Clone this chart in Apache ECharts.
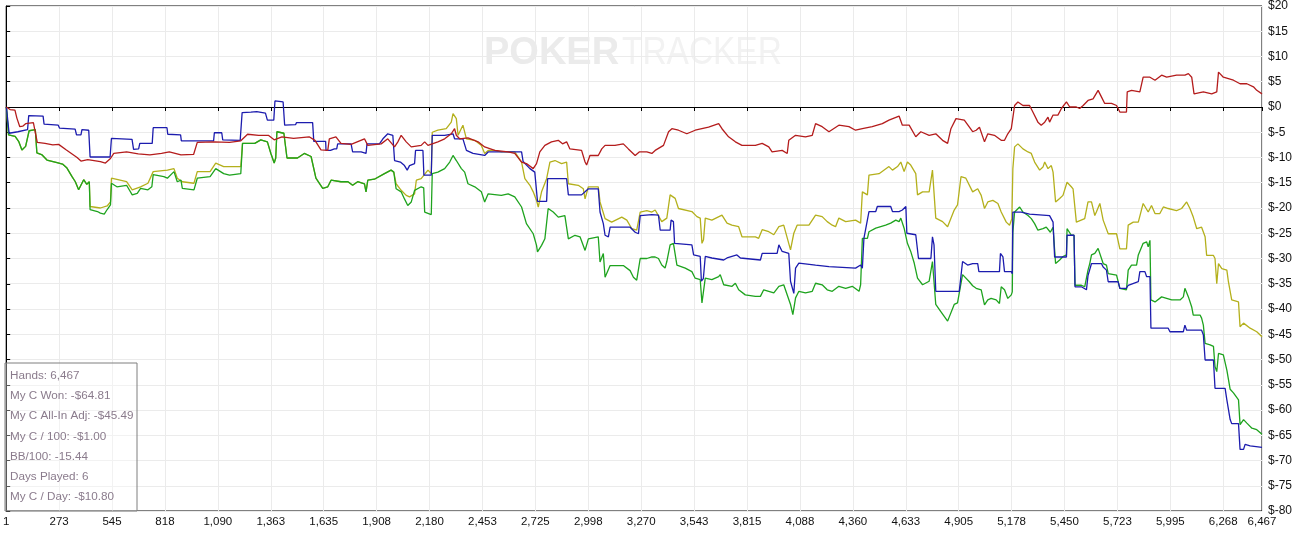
<!DOCTYPE html>
<html>
<head>
<meta charset="utf-8">
<script src="https://cdn.jsdelivr.net/npm/echarts@6/dist/echarts.min.js"></script>
<style>
html,body{margin:0;padding:0;background:#fff;}
#chart{width:1300px;height:533px;}
</style>
</head>
<body>
<div id="chart"></div>
<script>
// ---- data (hand number, dollars) ----
var totalHands = 6467;
var xTickStep = 272.5;
var yTicks = { min: -80, max: 20, step: 5 };

var statsLines = [
  "Hands: 6,467",
  "My C Won: -$64.81",
  "My C All-In Adj: -$45.49",
  "My C / 100: -$1.00",
  "BB/100: -15.44",
  "Days Played: 6",
  "My C / Day: -$10.80"
];

var redLine = [
[1,0],[20,-0.5],[45,-0.6],[55,-2.2],[70,-3.9],[85,-3.8],[100,-3.3],[140,-3.1],[160,-7.0],[200,-7.2],[240,-7.5],[270,-7.4],[310,-8.5],[365,-10.0],[385,-10.7],[420,-10.4],[485,-10.8],[511,-11.1],[537,-10.2],[554,-9.2],[620,-8.9],[680,-9.3],[740,-9.5],[800,-9.2],[840,-8.9],[900,-9.5],[965,-9.4],[984,-7.0],[1070,-6.9],[1150,-7.0],[1208,-6.7],[1243,-5.4],[1300,-5.6],[1350,-5.6],[1380,-6.5],[1420,-5.9],[1480,-6.2],[1560,-5.9],[1590,-6.6],[1621,-8.5],[1656,-8.6],
[1664,-6.3],[1698,-5.9],[1724,-7.2],[1776,-7.4],[1845,-6.3],[1862,-7.6],[1931,-7.3],[1965,-6.3],[2000,-7.9],[2017,-6.9],[2034,-5.6],[2060,-6.9],[2086,-7.9],[2137,-7.6],[2155,-6.9],[2172,-7.6],[2223,-6.9],[2258,-6.3],[2292,-5.3],[2309,-4.3],[2318,-5.6],[2335,-6.3],[2378,-6.1],[2430,-6.9],[2464,-7.9],[2516,-8.6],[2585,-8.9],[2619,-9.2],[2654,-10.9],[2679,-11.2],[2714,-12.2],[2731,-11.2],[2748,-8.9],[2774,-7.6],[2808,-6.9],[2843,-6.6],[2865,-7.3],[2886,-6.9],[2903,-8.3],[2963,-8.6],[2981,-10.9],[2989,-11.5],[3006,-9.6],[3049,-9.6],[3067,-8.3],[3084,-7.6],[3135,-7.6],[3178,-7.3],[3204,-8.3],[3239,-9.6],[3260,-8.9],[3299,-8.9],[3325,-9.2],
[3342,-8.6],[3385,-7.6],[3411,-4.9],[3428,-4.3],[3462,-4.6],[3505,-5.3],[3548,-4.6],[3617,-4.0],[3669,-3.3],[3686,-4.3],[3720,-5.9],[3755,-6.9],[3789,-7.6],[3858,-7.6],[3893,-7.2],[3927,-7.9],[3944,-8.9],[3996,-8.6],[4022,-9.2],[4030,-6.6],[4065,-5.6],[4116,-5.9],[4151,-5.6],[4168,-3.3],[4202,-3.9],[4237,-4.9],[4288,-3.6],[4340,-3.9],[4374,-4.6],[4409,-4.3],[4460,-3.9],[4512,-3.3],[4546,-2.6],[4598,-1.8],[4615,-3.6],[4650,-3.6],[4684,-5.9],[4710,-4.9],[4753,-5.6],[4787,-5.3],[4822,-6.6],[4848,-7.2],[4865,-4.3],[4891,-2.3],[4934,-2.6],[4977,-4.9],
[4995,-4.6],[5012,-4.0],[5038,-6.9],[5055,-5.3],[5089,-5.6],[5124,-6.6],[5141,-6.6],[5158,-5.3],[5176,-4.3],[5184,-4.0],[5193,0.3],[5210,1.0],[5236,0.3],[5270,0.3],[5287,-1.0],[5313,-3.0],[5330,-3.6],[5348,-3.0],[5365,-2.0],[5373,-3.0],[5391,-1.6],[5416,-1.6],[5434,-0.3],[5460,1.0],[5477,0],[5511,0],[5528,-0.3],[5546,0.3],[5571,1.3],[5597,1.6],[5623,3.3],[5640,2.0],[5657,0.7],[5692,0.7],[5718,0.3],[5735,-1.0],[5769,-1.0],[5773,3.0],[5795,3.3],[5838,3.0],[5855,5.9],[5890,5.9],[5916,5.3],[5950,6.3],[5976,5.9],[6027,6.3],[6070,6.3],[6088,6.6],[6105,5.9],[6117,2.6],[6165,3.0],[6208,2.6],[6234,3.0],[6243,6.9],[6268,5.9],[6320,5.3],[6354,4.6],[6389,4.6],[6423,4.0],[6440,3.3],[6467,2.6]
];

var blueLine = [
[1,0],[15,-5.2],[60,-4.9],[110,-4.5],[116,-1.7],[190,-1.8],[195,-3.4],[268,-3.6],[275,-4.2],[355,-4.4],[362,-5.5],[385,-5.5],[390,-4.5],[425,-4.6],[432,-9.9],[535,-9.9],[542,-6.2],[648,-6.4],[656,-8.4],[682,-8.3],[688,-7.2],[752,-7.2],[757,-4.1],[828,-4.1],[832,-5.4],[898,-5.5],[902,-6.7],[1068,-6.7],[1072,-5.1],[1110,-5.1],[1115,-6.5],[1205,-6.6],[1215,-1.1],[1260,-1.0],[1290,-0.9],[1335,-1.2],[1345,-2.6],[1378,-2.6],[1384,1.2],[1426,1.0],[1434,-3.6],[1490,-3.5],[1495,-3.1],[1578,-3.1],[1584,-6.8],[1645,-6.8],
[1647,-8.6],[1670,-8.6],[1690,-8.3],[1702,-8.3],[1707,-7.3],[1776,-7.3],[1784,-8.9],[1828,-8.9],[1836,-9.2],[1853,-9.2],[1858,-7.3],[1922,-7.3],[1940,-6.3],[1965,-5.3],[1991,-5.6],[2000,-10.6],[2030,-10.9],[2051,-11.6],[2065,-12.5],[2077,-11.6],[2103,-11.2],[2108,-8.6],[2146,-8.6],[2151,-13.5],[2189,-13.5],[2194,-5.6],[2258,-5.6],[2266,-5.3],[2301,-5.3],[2309,-6.3],[2352,-6.3],[2362,-6.6],[2370,-8.6],[2404,-9.2],[2464,-9.6],[2482,-8.9],[2654,-8.9],[2662,-10.8],[2697,-12.2],[2722,-12.9],[2736,-18.7],[2783,-18.7],[2788,-14.2],[2886,-14.2],[2895,-17.4],[2963,-17.4],[2981,-16.8],[2998,-16.2],[3049,-16.2],[3058,-20.8],[3075,-23.1],[3084,-25.4],[3101,-25.7],[3110,-23.8],[3213,-23.8],[3239,-24.8],[3256,-25.1],[3265,-21.5],[3325,-21.3],
[3359,-21.4],[3368,-24.4],[3419,-24.4],[3424,-22.4],[3436,-22.7],[3442,-27.0],[3531,-27.3],[3540,-29.3],[3574,-29.6],[3580,-34.5],[3590,-34.0],[3600,-29.6],[3634,-29.9],[3695,-30.3],[3712,-29.9],[3763,-29.3],[3781,-29.9],[3884,-30.3],[3893,-29.0],[3970,-29.0],[3979,-27.3],[3996,-28.6],[4030,-29.0],[4039,-34.5],[4056,-36.9],[4065,-31.9],[4082,-30.9],[4168,-31.3],[4237,-31.6],[4374,-31.9],[4400,-31.3],[4409,-31.9],[4417,-26.0],[4443,-20.7],[4478,-20.7],[4486,-19.7],[4555,-19.7],[4564,-20.7],[4598,-20.7],[4615,-20.4],[4633,-19.7],[4638,-25.0],[4684,-25.3],[4698,-30.0],[4762,-30.0],[4770,-25.7],[4778,-27.3],[4787,-36.5],[4908,-36.5],[4925,-30.6],[4951,-31.3],[4977,-31.0],
[5003,-31.0],[5009,-32.6],[5115,-32.6],[5120,-29.0],[5133,-29.7],[5141,-32.6],[5176,-32.6],[5181,-33.0],[5184,-20.8],[5227,-20.8],[5270,-21.2],[5373,-21.5],[5391,-22.8],[5399,-29.7],[5460,-29.7],[5463,-25.4],[5499,-25.4],[5504,-35.6],[5537,-35.6],[5546,-35.9],[5563,-36.2],[5571,-33.4],[5589,-31.0],[5640,-31.0],[5649,-31.7],[5666,-32.3],[5675,-34.6],[5726,-34.6],[5735,-35.9],[5769,-35.9],[5778,-35.3],[5830,-34.6],[5838,-32.6],[5864,-32.6],[5873,-33.6],[5890,-33.6],[5895,-43.8],[5984,-43.8],[5993,-44.5],[6062,-44.5],[6070,-43.2],[6079,-44.2],[6156,-44.2],[6165,-45.1],[6174,-50.1],[6217,-50.1],[6225,-55.7],[6277,-55.7],[6286,-58.0],[6303,-61.9],[6311,-62.7],[6346,-62.7],[6354,-67.8],[6372,-67.8],[6380,-66.8],[6406,-67.1],[6467,-67.4]
];

var greenLine = [
[1,0],[12,-5.5],[46,-5.8],[64,-6.8],[81,-8.5],[100,-7.8],[110,-7.5],[118,-4.7],[150,-4.5],[158,-9.1],[185,-9.5],[210,-10.5],[262,-11.0],[290,-11.3],[313,-12.1],[339,-13.8],[356,-14.8],[373,-16.4],[382,-16.7],[399,-14.4],[415,-15.3],[428,-14.8],[432,-20.3],[470,-20.7],[485,-21.0],[505,-21.2],[520,-20.3],[537,-19.4],[542,-15.1],[570,-15.8],[620,-15.5],[649,-17.4],[675,-17.1],[692,-16.1],[730,-16.4],[750,-15.8],[757,-13.4],[812,-13.8],[830,-14.1],[864,-12.8],[881,-14.8],[900,-14.5],[907,-16.1],[967,-16.4],[984,-14.1],[1050,-13.8],[1079,-12.2],[1120,-13.2],[1150,-13.5],[1208,-13.2],[1217,-7.2],[1280,-7.2],[1311,-6.5],[1345,-6.9],[1363,-9.2],[1380,-11.1],[1388,-10.1],[1394,-4.9],[1430,-5.2],[1446,-10.1],[1500,-10.1],[1535,-9.2],[1570,-9.8],[1595,-14.1],[1630,-16.1],[1656,-15.8],
[1673,-14.5],[1724,-14.8],[1760,-14.8],[1784,-15.5],[1810,-14.8],[1845,-15.2],[1853,-16.8],[1862,-14.5],[1896,-14.3],[1948,-13.2],[1982,-12.5],[1996,-12.9],[2008,-16.2],[2034,-16.8],[2051,-18.2],[2068,-19.5],[2086,-18.8],[2103,-16.5],[2112,-16.2],[2137,-15.8],[2150,-16.0],[2155,-20.8],[2189,-21.3],[2194,-13.2],[2223,-12.9],[2258,-12.2],[2284,-10.9],[2301,-9.6],[2318,-10.6],[2344,-12.2],[2361,-12.9],[2378,-15.2],[2413,-15.8],[2447,-16.8],[2464,-18.8],[2482,-17.2],[2550,-17.5],[2585,-17.2],[2619,-17.8],[2654,-19.8],[2679,-23.1],[2714,-25.1],[2731,-27.4],[2736,-28.7],[2757,-27.4],[2774,-26.1],[2791,-20.1],[2817,-20.8],[2843,-21.8],[2877,-21.5],[2895,-26.1],[2929,-25.4],[2955,-25.7],[2981,-28.4],[2998,-26.1],[3049,-25.7],[3058,-30.7],[3075,-29.0],[3084,-33.7],[3110,-31.4],[3178,-31.4],[3213,-32.4],[3230,-33.7],[3247,-34.3],[3265,-30.0],[3299,-30.0],[3325,-29.7],
[3342,-29.7],[3359,-30.0],[3376,-31.3],[3393,-31.9],[3402,-30.6],[3419,-27.3],[3436,-27.0],[3454,-31.3],[3497,-31.9],[3531,-32.6],[3548,-33.9],[3574,-34.2],[3583,-38.8],[3591,-38.5],[3600,-33.9],[3634,-34.2],[3669,-33.6],[3677,-33.2],[3695,-35.2],[3738,-35.5],[3755,-34.9],[3772,-36.2],[3806,-37.2],[3858,-37.5],[3884,-37.5],[3901,-36.2],[3927,-36.5],[3953,-36.8],[3979,-35.5],[4004,-35.2],[4039,-39.1],[4051,-41.1],[4065,-37.8],[4082,-36.5],[4116,-36.8],[4151,-36.5],[4168,-34.9],[4202,-35.2],[4228,-36.2],[4254,-36.5],[4288,-35.5],[4323,-35.9],[4357,-35.5],[4392,-36.5],[4400,-35.2],[4409,-26.0],[4435,-26.0],[4443,-24.7],[4478,-24.0],[4529,-23.4],[4555,-23.0],[4581,-22.4],[4598,-22.7],[4607,-22.0],[4624,-24.0],[4641,-27.0],[4658,-28.6],[4676,-30.9],[4693,-33.9],[4719,-35.2],[4753,-34.5],[4770,-30.6],[4787,-39.1],[4813,-40.5],[4848,-42.4],[4882,-39.1],[4899,-38.8],[4925,-33.2],[4934,-33.2],[4960,-34.6],[4977,-35.4],
[4995,-35.9],[5021,-36.2],[5029,-37.6],[5038,-39.2],[5055,-38.2],[5072,-37.9],[5098,-38.2],[5115,-38.9],[5124,-35.6],[5141,-36.2],[5158,-37.9],[5176,-37.2],[5181,-36.6],[5184,-24.8],[5193,-20.8],[5201,-20.5],[5219,-19.8],[5236,-20.8],[5262,-21.5],[5279,-22.1],[5296,-23.1],[5313,-24.4],[5339,-24.1],[5356,-23.8],[5377,-24.8],[5391,-23.8],[5404,-31.0],[5425,-30.3],[5442,-29.6],[5460,-29.3],[5463,-24.1],[5485,-25.4],[5499,-25.4],[5504,-35.3],[5537,-35.3],[5554,-35.6],[5571,-32.3],[5580,-31.0],[5589,-29.3],[5606,-29.0],[5623,-28.0],[5632,-27.7],[5649,-31.0],[5666,-31.3],[5675,-33.0],[5718,-33.3],[5735,-35.9],[5769,-36.2],[5778,-32.3],[5795,-31.3],[5821,-31.3],[5830,-29.3],[5855,-27.0],[5873,-26.7],[5881,-27.7],[5890,-26.4],[5895,-38.2],[5916,-38.6],[5950,-37.6],[5976,-37.9],[6002,-38.2],[6045,-38.2],[6062,-37.6],[6070,-35.9],[6088,-37.6],[6105,-39.6],[6113,-41.2],[6148,-41.2],[6156,-41.8],[6165,-43.2],[6174,-46.8],[6200,-47.1],[6217,-47.4],[6225,-51.4],[6234,-52.4],[6243,-48.8],[6268,-49.1],[6286,-52.1],[6303,-55.9],[6320,-56.6],[6346,-58.0],[6354,-62.9],[6372,-61.9],[6389,-62.6],[6415,-63.6],[6440,-63.9],[6467,-64.8]
];

var yellowLine = [
[1,0],[12,-5.5],[46,-5.8],[64,-6.8],[81,-8.5],[100,-7.8],[110,-7.5],[118,-4.7],[150,-4.5],[158,-9.1],[185,-9.5],[210,-10.5],[262,-11.0],[290,-11.3],[313,-12.1],[339,-13.8],[356,-14.8],[373,-16.4],[382,-16.7],[399,-14.4],[415,-15.3],[428,-14.8],
[432,-19.7],[485,-20.0],[520,-19.6],[537,-18.8],[542,-14.1],[620,-14.8],[649,-16.4],[692,-15.8],[730,-15.1],[757,-12.8],[830,-12.5],[864,-12.2],[881,-14.1],[907,-14.8],[967,-15.1],[984,-12.8],[1050,-12.8],[1079,-11.1],[1120,-11.8],[1208,-11.8],
[1217,-7.2],[1280,-7.2],[1311,-6.5],[1345,-6.9],[1363,-9.2],[1380,-11.1],[1388,-10.1],[1394,-4.9],[1430,-5.2],[1446,-10.1],[1500,-10.1],[1535,-9.2],[1570,-9.8],[1595,-14.1],[1630,-16.1],[1656,-15.8],[1673,-14.5],[1724,-14.8],[1760,-14.8],[1784,-15.5],[1810,-14.8],[1845,-15.2],[1853,-16.8],[1862,-14.5],[1896,-14.3],[1948,-13.2],[1982,-12.5],[1996,-12.9],
[2008,-15.2],[2034,-16.5],[2060,-17.5],[2077,-17.8],[2103,-17.2],[2112,-14.5],[2137,-14.2],[2172,-12.5],[2189,-13.2],[2194,-5.0],[2223,-4.6],[2266,-4.3],[2292,-3.0],[2301,-1.3],[2318,-2.3],[2327,-5.6],[2352,-3.6],[2370,-6.3],[2413,-6.6],[2447,-7.6],[2464,-9.2],[2482,-8.6],[2516,-8.6],[2550,-8.9],[2619,-8.9],[2654,-10.9],[2671,-14.2],[2697,-15.5],[2714,-16.8],[2731,-18.5],[2740,-19.8],[2757,-16.8],[2783,-14.2],[2800,-10.9],[2826,-10.6],[2860,-11.2],[2886,-10.9],[2895,-15.2],[2946,-15.5],[2972,-16.2],[2981,-18.2],[2998,-15.8],[3049,-15.8],[3058,-18.8],[3084,-22.1],[3118,-22.8],[3170,-21.8],[3196,-22.4],[3222,-24.1],[3247,-24.4],[3265,-20.8],[3299,-20.5],[3325,-20.8],
[3342,-20.4],[3376,-22.7],[3402,-22.0],[3419,-17.4],[3428,-17.1],[3445,-18.1],[3462,-20.1],[3531,-20.7],[3557,-21.7],[3574,-22.0],[3583,-27.0],[3591,-26.3],[3600,-22.0],[3634,-22.4],[3686,-21.4],[3712,-23.0],[3737,-23.4],[3772,-23.7],[3789,-25.7],[3858,-25.7],[3875,-26.0],[3893,-24.3],[3927,-24.7],[3953,-25.3],[3979,-23.7],[4004,-23.4],[4039,-28.3],[4056,-25.0],[4073,-23.4],[4134,-23.4],[4168,-21.4],[4202,-21.7],[4228,-22.7],[4254,-23.4],[4271,-23.7],[4288,-22.0],[4323,-22.7],[4374,-22.4],[4400,-23.0],[4409,-16.8],[4435,-17.4],[4443,-13.5],[4495,-13.2],[4546,-11.8],[4564,-12.5],[4590,-11.8],[4607,-10.9],[4624,-12.8],[4641,-10.9],[4658,-11.5],[4684,-13.2],[4693,-17.4],[4719,-16.8],[4753,-16.8],[4770,-12.5],[4787,-22.0],[4822,-22.7],[4848,-23.7],[4882,-20.4],[4899,-19.4],[4917,-13.8],[4942,-14.1],[4977,-16.8],
[5003,-16.2],[5021,-17.5],[5038,-20.1],[5055,-18.8],[5081,-18.5],[5107,-19.1],[5124,-20.8],[5150,-22.8],[5167,-23.4],[5179,-22.1],[5184,-12.2],[5193,-7.9],[5210,-7.3],[5236,-8.3],[5262,-8.9],[5279,-9.2],[5296,-10.9],[5322,-12.5],[5339,-11.9],[5348,-10.9],[5365,-12.2],[5382,-11.6],[5391,-12.9],[5404,-18.8],[5425,-18.1],[5442,-17.5],[5463,-14.9],[5485,-15.8],[5494,-16.2],[5511,-22.8],[5554,-22.1],[5571,-18.8],[5589,-18.8],[5606,-21.5],[5614,-20.8],[5632,-19.1],[5649,-22.4],[5675,-25.1],[5718,-25.1],[5735,-28.1],[5769,-28.1],[5778,-23.4],[5804,-22.8],[5830,-22.8],[5855,-19.1],[5881,-20.8],[5898,-19.5],[5916,-21.1],[5941,-21.1],[5959,-19.8],[5984,-20.1],[6027,-20.5],[6053,-20.1],[6079,-18.8],[6096,-20.1],[6113,-21.8],[6131,-24.1],[6156,-23.8],[6174,-25.7],[6182,-29.4],[6217,-29.4],[6225,-30.0],
[6234,-35.0],[6243,-31.0],[6260,-32.0],[6286,-32.3],[6294,-34.6],[6311,-38.2],[6346,-38.6],[6354,-43.5],[6372,-42.8],[6406,-43.8],[6440,-44.5],[6467,-45.5]
];

// ---- chart ----
var chart = echarts.init(document.getElementById('chart'), null, { renderer: 'canvas' });

var axisFont = 'Liberation Sans, Arial, sans-serif';

function lineSeries(name, data, color, z) {
  return {
    name: name,
    type: 'line',
    data: data,
    showSymbol: false,
    symbol: 'none',
    z: z,
    lineStyle: { color: color, width: 1.3 },
    itemStyle: { color: color },
    silent: true
  };
}

var boxGraphics = [{
  type: 'rect',
  shape: { x: 5, y: 363, width: 132, height: 148 },
  style: { fill: 'rgba(255,255,255,0.35)', stroke: '#7f7f7f', lineWidth: 1 },
  z: 100
}];
statsLines.forEach(function (t, i) {
  boxGraphics.push({
    type: 'text',
    x: 10,
    y: 376 + i * 20.1,
    style: {
      text: t,
      fill: '#8a7b8c',
      font: '11.7px "Liberation Sans", Arial, sans-serif',
      textVerticalAlign: 'middle',
      verticalAlign: 'middle'
    },
    z: 101
  });
});

var watermark = [
  {
    type: 'text', x: 484, y: 54, z: 0, silent: true,
    style: { text: 'POKER', fill: '#ebebeb', font: 'bold 38px "Liberation Sans", Arial, sans-serif', verticalAlign: 'middle', textVerticalAlign: 'middle' }
  },
  {
    type: 'text', x: 622, y: 54, z: 0, silent: true, scaleX: 0.88,
    style: { text: 'TRACKER', fill: '#f2f2f2', font: '38px "Liberation Sans", Arial, sans-serif', verticalAlign: 'middle', textVerticalAlign: 'middle' }
  }
];

var option = {
  animation: false,
  backgroundColor: '#ffffff',
  grid: {
    left: 5, right: 38, top: 4, bottom: 22,
    show: true, borderColor: '#000', borderWidth: 1, backgroundColor: 'transparent'
  },
  xAxis: {
    type: 'value',
    min: 0,
    max: totalHands,
    interval: xTickStep,
    axisLine: { show: true, lineStyle: { color: '#000', width: 1 } },
    axisTick: { show: true, length: 4, lineStyle: { color: '#000' } },
    axisLabel: {
      show: true,
      color: '#111',
      fontFamily: axisFont,
      fontSize: 11.5,
      margin: 5,
      showMinLabel: true,
      showMaxLabel: true,
      formatter: function (v) {
        var n = (v === 0) ? 1 : Math.round(v);
        return n.toLocaleString('en-US');
      }
    },
    splitLine: { show: true, lineStyle: { color: '#ebebeb', width: 1 } }
  },
  yAxis: {
    type: 'value',
    position: 'right',
    min: yTicks.min,
    max: yTicks.max,
    interval: yTicks.step,
    axisLine: { show: true, lineStyle: { color: '#000', width: 1 } },
    axisTick: { show: true, length: 4, lineStyle: { color: '#000' } },
    axisLabel: {
      color: '#111',
      fontFamily: axisFont,
      fontSize: 12,
      margin: 6,
      formatter: function (v) { return '$' + v; }
    },
    splitLine: { show: true, lineStyle: { color: '#ebebeb', width: 1 } }
  },
  graphic: watermark.concat(boxGraphics),
  series: [
    lineSeries('My C All-In Adj', yellowLine, '#b4b01c', 3),
    lineSeries('My C Won', greenLine, '#1ea31e', 4),
    lineSeries('Showdown', blueLine, '#1c1cae', 5),
    Object.assign(lineSeries('Non-Showdown', redLine, '#b41c1c', 6), {
      markLine: {
        silent: true,
        symbol: 'none',
        label: { show: false },
        lineStyle: { color: '#000', width: 1, type: 'solid' },
        data: [{ yAxis: 0 }]
      }
    })
  ]
};
chart.setOption(option);
</script>
</body>
</html>
